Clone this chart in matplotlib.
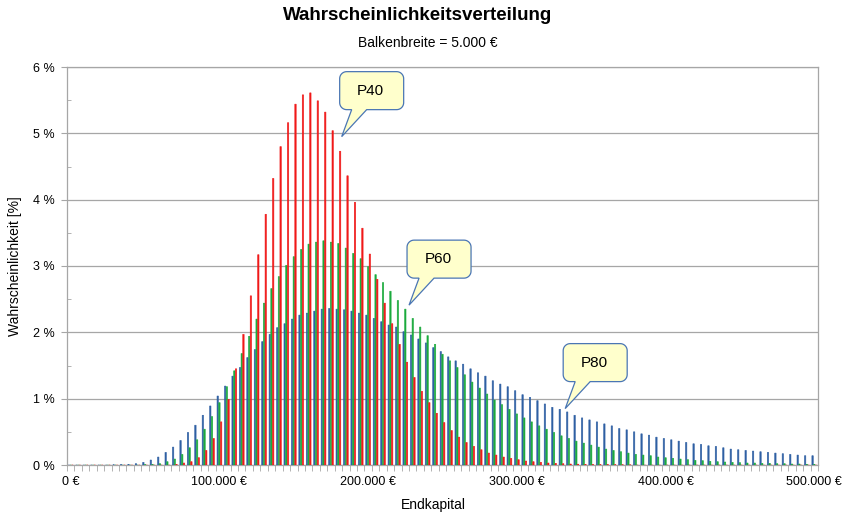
import numpy as np
import matplotlib
matplotlib.use("Agg")
import matplotlib.pyplot as plt
from matplotlib.patches import Polygon
from matplotlib.transforms import IdentityTransform

plt.rcParams['font.family'] = ['Liberation Sans', 'DejaVu Sans']

# Klassen: Endkapital in 5.000-EUR-Schritten
endkapital = np.arange(0, 500001, 5000)
xtick_pos = [0, 20, 40, 60, 80, 100]
xtick_labels = ["0 €", "100.000 €", "200.000 €", "300.000 €", "400.000 €", "500.000 €"]

# Wahrscheinlichkeit in % je Klasse
p80 = [0, 0, 0, 0, 0, 0, 0.002, 0.005, 0.01, 0.02,
       0.04, 0.075, 0.12, 0.19, 0.27, 0.37, 0.49, 0.60, 0.75, 0.89,
       1.04, 1.19, 1.34, 1.47, 1.62, 1.74, 1.86, 1.97, 2.07, 2.13,
       2.20, 2.26, 2.29, 2.32, 2.35, 2.36, 2.35, 2.34, 2.32, 2.29,
       2.26, 2.21, 2.16, 2.11, 2.08, 2.01, 1.96, 1.90, 1.84, 1.77,
       1.71, 1.63, 1.57, 1.52, 1.45, 1.39, 1.34, 1.27, 1.22, 1.18,
       1.12, 1.06, 1.02, 0.97, 0.92, 0.87, 0.84, 0.80, 0.75, 0.71,
       0.68, 0.65, 0.62, 0.59, 0.55, 0.53, 0.50, 0.47, 0.45, 0.42,
       0.40, 0.38, 0.36, 0.34, 0.32, 0.31, 0.29, 0.28, 0.26, 0.24,
       0.23, 0.22, 0.21, 0.20, 0.19, 0.18, 0.17, 0.16, 0.15, 0.14,
       0.14]
p60 = [0, 0, 0, 0, 0, 0, 0, 0, 0, 0,
       0.005, 0.01, 0.02, 0.05, 0.09, 0.16, 0.26, 0.38, 0.54, 0.73,
       0.94, 1.18, 1.42, 1.68, 1.94, 2.20, 2.44, 2.66, 2.84, 3.01,
       3.14, 3.25, 3.33, 3.36, 3.38, 3.36, 3.34, 3.27, 3.19, 3.11,
       2.99, 2.87, 2.75, 2.62, 2.48, 2.35, 2.21, 2.08, 1.95, 1.82,
       1.67, 1.57, 1.47, 1.36, 1.25, 1.16, 1.07, 0.98, 0.91, 0.84,
       0.77, 0.71, 0.65, 0.59, 0.54, 0.49, 0.44, 0.40, 0.36, 0.33,
       0.30, 0.27, 0.24, 0.22, 0.20, 0.18, 0.16, 0.15, 0.14, 0.12,
       0.11, 0.10, 0.09, 0.08, 0.07, 0.065, 0.055, 0.05, 0.045, 0.04,
       0.035, 0.03, 0.03, 0.025, 0.025, 0.02, 0.02, 0.015, 0.015, 0.01,
       0.01]
p40 = [0, 0, 0, 0, 0, 0, 0, 0, 0, 0,
       0, 0, 0, 0, 0.01, 0.03, 0.05, 0.11, 0.22, 0.40,
       0.65, 0.99, 1.45, 1.97, 2.55, 3.17, 3.78, 4.32, 4.80, 5.16,
       5.44, 5.58, 5.61, 5.49, 5.32, 5.04, 4.73, 4.36, 3.96, 3.57,
       3.18, 2.80, 2.44, 2.13, 1.82, 1.55, 1.32, 1.11, 0.94, 0.78,
       0.64, 0.52, 0.42, 0.34, 0.28, 0.23, 0.18, 0.15, 0.12, 0.10,
       0.08, 0.06, 0.05, 0.04, 0.03, 0.025, 0.02, 0.015, 0.012, 0.01,
       0.008, 0.006, 0.005, 0.004, 0.003, 0.002, 0, 0, 0, 0,
       0, 0, 0, 0, 0, 0, 0, 0, 0, 0,
       0, 0, 0, 0, 0, 0, 0, 0, 0, 0,
       0]

# Sprechblasen: (Klasse, Wert in %) der Spitze
callouts = [("P40", 36.44, 4.95), ("P60", 45.5, 2.41), ("P80", 66.5, 0.85)]

blue = "#2E5FA3"
green = "#1AAA3C"
red = "#F01818"
grid_c = "#A6A6A6"

W, H = 850, 518
fig = plt.figure(figsize=(W / 100, H / 100), dpi=100)
ax = fig.add_axes([67 / W, (H - 465) / H, (818 - 67) / W, (465 - 67) / H])

x = np.arange(len(endkapital))
bw = 0.23
for off, vals, col in [(-bw, p80, blue), (0, p60, green), (bw, p40, red)]:
    ax.bar(x + off, vals, width=bw * 0.8, color=col, edgecolor=col,
           linewidth=0.4, snap=False, zorder=3)

ax.set_xlim(-0.5, len(endkapital) - 0.5)
ax.set_ylim(0, 6)

ax.set_xticks(xtick_pos)
ax.set_xticklabels(xtick_labels)
ax.set_xticks(np.arange(-0.5, len(endkapital), 1), minor=True)
ax.tick_params(axis="x", which="major", length=0, pad=8, labelsize=9)
ax.tick_params(axis="x", which="minor", length=4, color=grid_c, direction="out")

ax.set_yticks(range(0, 7))
ax.set_yticklabels([f"{v} %" for v in range(0, 7)])
ax.set_yticks(np.arange(0.5, 6, 1), minor=True)
ax.tick_params(axis="y", which="major", length=4, color=grid_c, pad=5, labelsize=9)
ax.tick_params(axis="y", which="minor", length=3, color=grid_c, direction="in")

ax.grid(axis="y", which="major", color=grid_c, linewidth=0.9, zorder=0)
for s in ax.spines.values():
    s.set_color(grid_c)
    s.set_linewidth(0.9)

fig.text(418 / W, 1 - 15 / H, "Wahrscheinlichkeitsverteilung", ha="center", va="center",
         fontsize=13.5, fontweight="bold")
fig.text(428 / W, 1 - 43 / H, "Balkenbreite = 5.000 €", ha="center", va="center", fontsize=10)
fig.text(433 / W, 1 - 505 / H, "Endkapital", ha="center", va="center", fontsize=10)
fig.text(15 / W, 1 - 266 / H, "Wahrscheinlichkeit [%]", ha="center", va="center",
         rotation=90, fontsize=10)


def bubble(label, xi, yi):
    tx, ty = ax.transData.transform((xi, yi))
    x0, x1 = tx - 2, tx + 62
    y0, y1 = ty + 27, ty + 65
    r = 7
    pts = [(tx + 25, y0)]
    for cx, cy, a0 in [(x1 - r, y0 + r, -90), (x1 - r, y1 - r, 0),
                       (x0 + r, y1 - r, 90), (x0 + r, y0 + r, 180)]:
        for a in np.linspace(a0, a0 + 90, 10):
            pts.append((cx + r * np.cos(np.radians(a)), cy + r * np.sin(np.radians(a))))
    pts += [(tx + 10, y0), (tx, ty)]
    fig.add_artist(Polygon(pts, closed=True, transform=IdentityTransform(),
                           facecolor="#FFFFCC", edgecolor="#4A76B4", linewidth=0.9, zorder=5))
    fig.text(tx + 29, ty + 46, label, transform=IdentityTransform(), ha="center",
             va="center", fontsize=11, zorder=6)


for lab, xi, yi in callouts:
    bubble(lab, xi, yi)

fig.savefig("out.png", dpi=100)
